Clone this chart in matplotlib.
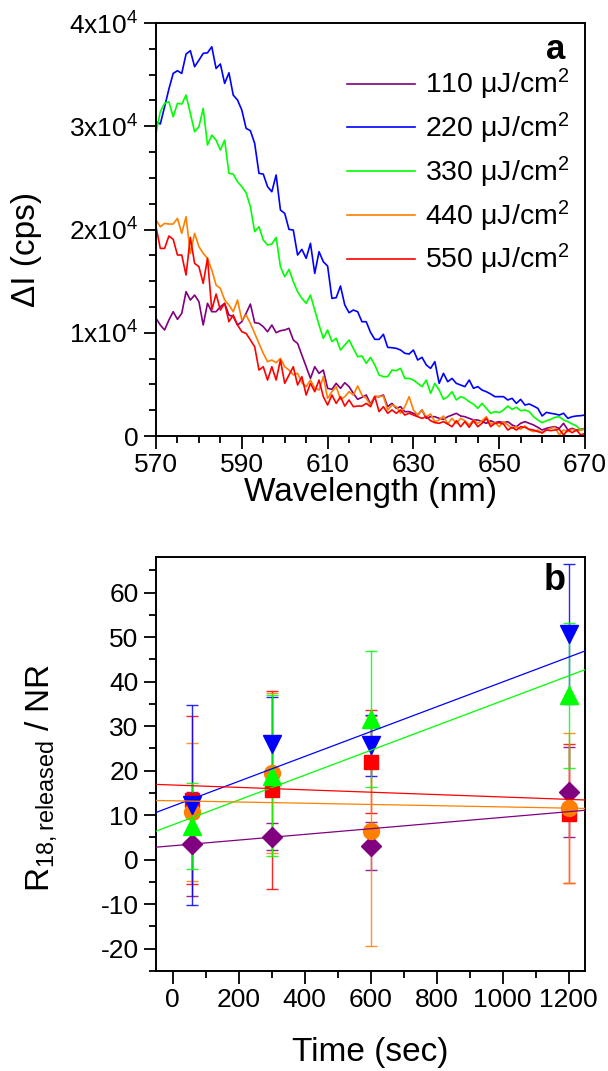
import matplotlib.pyplot as plt
import numpy as np
from matplotlib.ticker import MultipleLocator, FuncFormatter

plt.rcParams['font.family'] = ['Liberation Sans', 'DejaVu Sans']
plt.rcParams['mathtext.fontset'] = 'custom'
plt.rcParams['mathtext.rm'] = 'Liberation Sans'
plt.rcParams['mathtext.default'] = 'regular'
plt.rcParams['axes.unicode_minus'] = False

# panel a : change of emission intensity vs wavelength, one spectrum per fluence
wavelength = np.arange(570, 671)
fluences = ['110', '220', '330', '440', '550']
colors = ['#800080', '#0000ff', '#00ff00', '#ff8000', '#ff0000']

dI_110 = [11400, 10750, 10270, 11230, 12040, 11300, 11880, 13980, 13170, 13650,
          13010, 10750, 12850, 12040, 12040, 12520, 12850, 11720, 11560, 10750,
          11070, 11880, 12780, 10980, 10910, 10590, 10100, 10750, 10010, 10200,
          10270, 10430, 9300, 8970, 7840, 6710, 5580, 6710, 6070, 6390,
          4620, 4520, 5100, 4620, 5160, 4780, 4130, 3550, 3740, 3970,
          3100, 3810, 3810, 3970, 2840, 3160, 2680, 2840, 2360, 2360,
          2200, 2030, 2520, 1710, 1870, 1870, 1710, 1610, 1870, 2030,
          2200, 1940, 1870, 1710, 1550, 1550, 1390, 1230, 1480, 1290,
          1390, 1290, 1390, 1070, 900, 1230, 1390, 1230, 1070, 840,
          580, 740, 840, 900, 740, 1230, 580, 740, 580, 650,
          740]
dI_220 = [30440, 30220, 31890, 33600, 35120, 35380, 35120, 36990, 37320, 35770,
          36400, 37060, 37120, 37700, 35600, 36030, 34150, 35180, 33020, 32540,
          31570, 29800, 29570, 28340, 25440, 25370, 24150, 23660, 25280, 21890,
          21560, 20010, 19950, 17530, 18080, 17210, 18660, 15750, 17850, 16880,
          16460, 13330, 13400, 14530, 12690, 11940, 12200, 12040, 11070, 11070,
          10040, 9360, 9360, 9850, 8590, 8550, 8490, 8330, 8010, 7940,
          8330, 7360, 7620, 6880, 6550, 7200, 5100, 6070, 5260, 5580,
          5100, 4940, 4780, 5420, 4620, 4780, 4450, 4290, 4070, 3810,
          3810, 3810, 3490, 3650, 3160, 3550, 3000, 3100, 2900, 2680,
          1940, 2290, 2200, 2130, 2030, 2200, 1710, 1870, 1940, 1970,
          2030]
dI_330 = [29310, 31410, 32220, 32380, 30920, 32220, 32150, 33020, 31250, 29470,
          29960, 31730, 28180, 29150, 28660, 27700, 28660, 25440, 25370, 24630,
          24150, 23560, 22210, 19790, 20270, 18980, 18500, 18590, 19240, 16400,
          15430, 16140, 14950, 13980, 13330, 12850, 13650, 12200, 10750, 9460,
          10270, 9140, 9460, 8330, 8810, 9300, 8490, 7680, 7750, 7040,
          7620, 6880, 5910, 5750, 5750, 6390, 6330, 6550, 5580, 5580,
          5420, 5100, 4780, 5420, 4130, 5100, 4450, 3550, 3810, 4290,
          3490, 3810, 3650, 3320, 3100, 2680, 3160, 2680, 2200, 2360,
          2260, 2520, 2900, 2580, 2780, 2450, 2520, 2360, 1870, 1550,
          1290, 1480, 1610, 1810, 1870, 1550, 1390, 1160, 970, 580,
          740]
dI_440 = [20920, 20270, 20590, 20530, 20530, 21080, 19630, 21240, 17690, 19630,
          18340, 17690, 17210, 16080, 14620, 14300, 13170, 12690, 12040, 13170,
          11230, 11720, 10910, 9940, 8970, 8010, 7200, 7360, 7100, 7520,
          6710, 6390, 5910, 6070, 5160, 4780, 5420, 4620, 4450, 5750,
          3650, 4290, 4780, 3550, 3810, 4290, 3970, 4840, 3970, 3650,
          3000, 3870, 3810, 3870, 2520, 3000, 2840, 2200, 2840, 3810,
          2520, 2030, 2520, 1870, 2130, 1390, 1550, 1940, 1160, 1710,
          1230, 1710, 1480, 1070, 1550, 1230, 1480, 1870, 1160, 1290,
          900, 1390, 1070, 740, 900, 650, 970, 580, 420, 580,
          260, 580, 740, 840, 100, 580, 420, 650, 520, 580,
          650]
dI_550 = [20270, 18170, 18170, 19370, 19050, 17530, 17530, 15590, 19240, 16720,
          16400, 14780, 17210, 12200, 13750, 12200, 12850, 11070, 11720, 10750,
          10100, 9940, 9300, 8650, 6390, 6710, 5420, 6710, 5420, 7360,
          5100, 5910, 6710, 4940, 5750, 3970, 5100, 4290, 5420, 3810,
          3000, 3970, 3160, 3810, 2900, 3490, 2840, 2900, 2900, 3160,
          2840, 3810, 2360, 2840, 2200, 2520, 2200, 2520, 2030, 2200,
          2030, 1870, 1710, 1870, 1480, 1290, 1230, 1390, 1160, 900,
          1480, 900, 1390, 840, 1480, 900, 1230, 1710, 900, 1230,
          1290, 1160, 580, 840, 580, 900, 840, 650, 580, 420,
          320, 580, 520, 580, 650, 100, 580, 320, 580, 100,
          260]
spectra = [dI_110, dI_220, dI_330, dI_440, dI_550]
wl_ticks = [570, 590, 610, 630, 650, 670]

# panel b : R18 released / NR vs time, with linear fits
time = [60, 300, 600, 1200]
R_110 = [3.5, 5.2, 3.0, 15.2]
R_220 = [12.3, 25.9, 25.7, 50.6]
R_330 = [7.5, 18.9, 31.6, 36.9]
R_440 = [10.7, 19.4, 6.4, 11.6]
R_550 = [13.4, 15.7, 22.0, 10.3]
err_110 = [11.6, 3.0, 5.4, 10.0]
err_220 = [22.4, 10.6, 6.9, 15.7]
err_330 = [9.7, 18.1, 15.3, 16.2]
err_440 = [15.4, 18.0, 25.9, 16.9]
err_550 = [18.9, 22.2, 11.6, 15.6]
fit_intercept = [3.12, 12.0, 7.8, 13.23, 16.77]
fit_slope = [0.00638, 0.0279, 0.0279, -0.00138, -0.00269]

R_all = [R_110, R_220, R_330, R_440, R_550]
err_all = [err_110, err_220, err_330, err_440, err_550]
markers = ['D', 'v', '^', 'o', 's']
msizes = [10.5, 13.5, 13.5, 11.5, 10]
draw_order = [0, 4, 3, 1, 2]

fig = plt.figure(figsize=(6.08, 10.71), dpi=100)
ax1 = fig.add_axes([0.2566, 0.5929, 0.7056, 0.3856])
ax2 = fig.add_axes([0.2566, 0.0934, 0.7056, 0.3866])


def style_axis(ax):
    for s in ax.spines.values():
        s.set_linewidth(1.4)
    ax.tick_params(which='both', direction='out', top=False, right=False,
                   width=1.3, labelsize=19)
    ax.tick_params(which='major', length=9)
    ax.tick_params(which='minor', length=5)


for i in range(5):
    ax1.plot(wavelength, spectra[i], color=colors[i], lw=1.2,
             label=fluences[i] + ' μJ/cm$^2$')
ax1.set_xlim(570, 670)
ax1.set_ylim(0, 40000)
ax1.set_xticks(wl_ticks)
ax1.xaxis.set_minor_locator(MultipleLocator(5))
ax1.yaxis.set_major_locator(MultipleLocator(10000))
ax1.yaxis.set_minor_locator(MultipleLocator(2500))
ax1.yaxis.set_major_formatter(FuncFormatter(
    lambda v, p: '0' if v == 0 else '%dx10$^4$' % round(v / 10000)))
style_axis(ax1)
ax1.set_xlabel('Wavelength (nm)', fontsize=24, labelpad=0)
ax1.set_ylabel('ΔI (cps)', fontsize=24)
ax1.yaxis.set_label_coords(-0.266, 0.452)
ax1.legend(loc='upper left', bbox_to_anchor=(0.445, 0.893), frameon=False,
           fontsize=20.5, handlelength=2.4, handletextpad=0.35,
           labelspacing=0.3, borderpad=0, borderaxespad=0)
ax1.text(0.955, 0.975, 'a', transform=ax1.transAxes, ha='right', va='top',
         fontsize=25, fontweight='bold')

xfit = np.array([-50, 1250])
for i in draw_order:
    ecol = plt.matplotlib.colors.to_rgba(colors[i], 0.85)
    ax2.errorbar(time, R_all[i], yerr=err_all[i], fmt=markers[i],
                 color=colors[i], ecolor=ecol, ms=msizes[i], capsize=4.5,
                 elinewidth=1.0, capthick=1.0, zorder=2)
for i in range(5):
    ax2.plot(xfit, fit_intercept[i] + fit_slope[i] * xfit, color=colors[i],
             lw=0.9, zorder=4)
ax2.set_xlim(-50, 1250)
ax2.set_ylim(-25, 68)
ax2.xaxis.set_major_locator(MultipleLocator(200))
ax2.xaxis.set_minor_locator(MultipleLocator(100))
ax2.yaxis.set_major_locator(MultipleLocator(10))
ax2.yaxis.set_minor_locator(MultipleLocator(5))
style_axis(ax2)
ax2.set_xlabel('Time (sec)', fontsize=24, labelpad=18)
ax2.set_ylabel('R$_{18,released}$ / NR', fontsize=24)
ax2.yaxis.set_label_coords(-0.225, 0.467)
ax2.text(0.955, 0.985, 'b', transform=ax2.transAxes, ha='right', va='top',
         fontsize=26, fontweight='bold')

fig.savefig('out.png', dpi=100)
